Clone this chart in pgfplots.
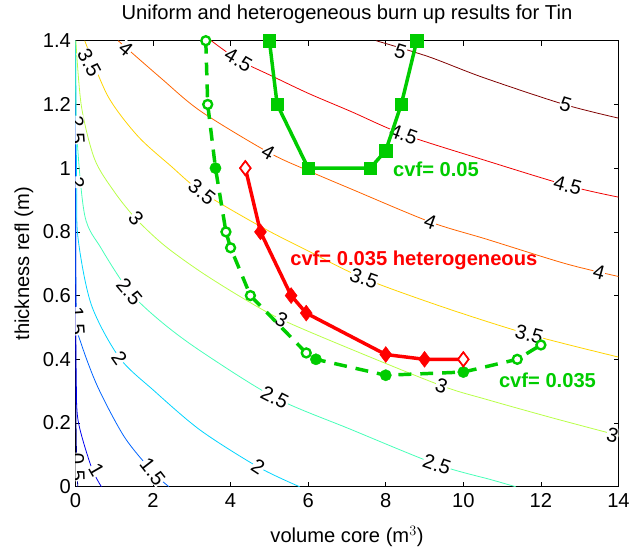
\documentclass[border=0pt]{standalone}
\usepackage{fontspec}
\setmainfont{Liberation Sans}
\usepackage{pgfplots}
\pgfplotsset{compat=1.18}
\definecolor{cA}{rgb}{0,0,0.56}
\definecolor{cB}{rgb}{0,0,0.94}
\definecolor{cC}{rgb}{0,0.39,1}
\definecolor{cD}{rgb}{0,0.83,1}
\definecolor{cE}{rgb}{0.28,1,0.72}
\definecolor{cF}{rgb}{0.72,1,0.28}
\definecolor{cG}{rgb}{1,0.83,0}
\definecolor{cH}{rgb}{1,0.39,0}
\definecolor{cI}{rgb}{0.94,0,0}
\definecolor{cJ}{rgb}{0.5,0,0}
\definecolor{mygreen}{rgb}{0,0.8,0}
\newcommand{\fs}{\fontsize{20.3}{23}\selectfont}
\tikzset{clabel/.style={fill=white, inner sep=0.3pt, font=\fs, text=black},
  cline/.style={line width=0.8pt, smooth, tension=0.5}}
\begin{document}
\begin{tikzpicture}
\begin{axis}[at={(0pt,0pt)},anchor=south west,
  scale only axis, width=547pt, height=449.3pt,
  xmin=0,xmax=14,ymin=0,ymax=1.4,
  xtick={0,2,4,6,8,10,12,14},
  ytick={0,0.2,0.4,0.6,0.8,1,1.2,1.4},
  yticklabels={0,0.2,0.4,0.6,0.8,1,1.2,1.4},
  tick align=inside, major tick length=5pt,
  tick style={black, line width=0.6pt},
  axis line style={black, line width=0.8pt},
  /pgf/number format/assume math mode=true,
  tick label style={font=\fs},
  xticklabel style={yshift=-3pt},
  yticklabel style={xshift=-1pt},
  title={Uniform and heterogeneous burn up results for Tin},
  title style={at={(axis description cs:0.5,1.045)},anchor=center,font=\fs},
  xlabel={volume core (m$^{3}$)},
  xlabel style={at={(axis description cs:0.5,-0.112)},anchor=center,font=\fs},
  ylabel={thickness refl (m)},
  ylabel style={at={(axis description cs:-0.095,0.5)},anchor=center,font=\fs},
]
% contour lines
\addplot[cline, cA] coordinates {(0.001,1.4) (0.005,0.5) (0.02,0.15) (0.06,0)};
\addplot[cline, cB] coordinates {(0.002,1.4) (0.006,0.6) (0.02,0.35) (0.068,0.208) (0.41,0.062) (0.67,0)};
\addplot[cline, cC] coordinates {(0.002,1.4) (0.006,0.8) (0.03,0.52) (0.154,0.447) (0.58,0.312) (1.263,0.156) (1.99,0.047) (2.41,0)};
\addplot[cline, cD] coordinates {(0.003,1.4) (0.03,0.956) (0.068,0.779) (0.41,0.571) (1.135,0.405) (2.03,0.301) (3.225,0.177) (4.71,0.062) (5.78,0)};
\addplot[cline, cE] coordinates {(0.005,1.4) (0.03,1.12) (0.239,0.852) (0.665,0.748) (1.39,0.613) (2.2,0.519) (3.225,0.426) (5.14,0.28) (7.1,0.18) (9.32,0.07) (10.72,0.022) (11.35,0)};
\addplot[cline, cF] coordinates {(0.01,1.4) (0.154,1.194) (0.495,1.028) (1.007,0.925) (1.561,0.841) (2.286,0.758) (3.225,0.675) (4.3,0.593) (5.31,0.525) (7.1,0.432) (9.44,0.317) (10.6,0.274) (12.3,0.216) (14,0.161)};
\addplot[cline, cG] coordinates {(0.24,1.4) (0.836,1.226) (1.604,1.101) (2.457,1.007) (3.26,0.925) (4.8,0.815) (6,0.74) (7.44,0.654) (9.5,0.563) (11.7,0.478) (14,0.407)};
\addplot[cline, cH] coordinates {(1.1,1.4) (2.2,1.283) (3.225,1.179) (4.97,1.05) (6,0.992) (7.1,0.935) (9.15,0.831) (10.6,0.777) (12.64,0.70) (14,0.66)};
\addplot[cline, cI] coordinates {(3.5,1.4) (4.2,1.34) (5.05,1.29) (6,1.235) (7.1,1.178) (8.46,1.106) (10.6,1.023) (12.7,0.945) (14,0.909)};
\addplot[cline, cJ] coordinates {(7.75,1.4) (9.1,1.35) (10.5,1.285) (12.6,1.2) (14,1.157)};
% contour labels
\node[clabel, rotate=-17] at (axis cs:8.38,1.366) {5};
\node[clabel, rotate=-17] at (axis cs:12.64,1.2) {5};
\node[clabel, rotate=-30] at (axis cs:4.2,1.34) {4.5};
\node[clabel, rotate=-20] at (axis cs:8.46,1.106) {4.5};
\node[clabel, rotate=-15] at (axis cs:12.69,0.945) {4.5};
\node[clabel, rotate=-40] at (axis cs:1.3,1.375) {4};
\node[clabel, rotate=-30] at (axis cs:4.97,1.05) {4};
\node[clabel, rotate=-20] at (axis cs:9.15,0.831) {4};
\node[clabel, rotate=-15] at (axis cs:13.5,0.672) {4};
\node[clabel, rotate=-62] at (axis cs:0.36,1.33) {3.5};
\node[clabel, rotate=-38] at (axis cs:3.26,0.925) {3.5};
\node[clabel, rotate=-20] at (axis cs:7.44,0.654) {3.5};
\node[clabel, rotate=-15] at (axis cs:11.7,0.478) {3.5};
\node[clabel, rotate=-50] at (axis cs:1.56,0.841) {3};
\node[clabel, rotate=-26] at (axis cs:5.31,0.525) {3};
\node[clabel, rotate=-20] at (axis cs:9.44,0.317) {3};
\node[clabel, rotate=-15] at (axis cs:13.85,0.163) {3};
\node[clabel, rotate=-86] at (axis cs:0.04,1.12) {2.5};
\node[clabel, rotate=-50] at (axis cs:1.39,0.613) {2.5};
\node[clabel, rotate=-27] at (axis cs:5.14,0.28) {2.5};
\node[clabel, rotate=-19] at (axis cs:9.32,0.07) {2.5};
\node[clabel, rotate=-86] at (axis cs:0.04,0.956) {2};
\node[clabel, rotate=-55] at (axis cs:1.135,0.405) {2};
\node[clabel, rotate=-33] at (axis cs:4.71,0.062) {2};
\node[clabel, rotate=-86] at (axis cs:0.04,0.52) {1.5};
\node[clabel, rotate=-52] at (axis cs:1.99,0.047) {1.5};
\node[clabel, rotate=-60] at (axis cs:0.54,0.053) {1};
\node[clabel, rotate=-88] at (axis cs:0.05,0.062) {0.5};
% cvf = 0.05
\addplot[mygreen, line width=3.5pt, mark=square*, mark size=6.3pt, mark options={solid, line width=0.5pt}]
  coordinates {(5,1.4) (5.2,1.2) (6,1) (7.6,1) (8,1.055) (8.4,1.2) (8.8,1.4)};
% cvf = 0.035
\addplot[mygreen, line width=3.5pt, dash pattern=on 13pt off 9pt]
  coordinates {(3.36,1.4) (3.41,1.2) (3.61,1.0) (3.88,0.8) (4.0,0.75) (4.51,0.6) (5.95,0.42) (6.2,0.4) (8,0.35) (10,0.36) (11.39,0.4) (12,0.445)};
\addplot[only marks, mygreen, mark=*, mark size=4.5pt, mark options={fill=white, line width=2.4pt}]
  coordinates {(3.36,1.4) (3.41,1.2) (3.88,0.8) (4.0,0.75) (4.51,0.6) (5.95,0.42) (11.39,0.4) (12,0.445)};
\addplot[only marks, mygreen, mark=*, mark size=5.7pt]
  coordinates {(3.61,1.0) (6.2,0.4) (8,0.35) (10,0.36)};
% cvf = 0.035 heterogeneous
\addplot[red, line width=3.5pt, mark=diamond*, mark size=8pt, mark options={solid, line width=0.5pt}]
  coordinates {(4.38,1.0) (4.77,0.8) (5.56,0.6) (5.95,0.545) (8,0.415) (9,0.4) (10,0.4)};
\addplot[only marks, red, mark=diamond*, mark size=7pt, mark options={fill=white, line width=1.6pt}]
  coordinates {(4.38,1.0) (10,0.4)};
\node[anchor=west, text=mygreen, font=\fs\bfseries] at (axis cs:8.1,0.995) {cvf= 0.05};
\node[anchor=west, text=red, font=\fs\bfseries] at (axis cs:5.45,0.71) {cvf= 0.035 heterogeneous};
\node[anchor=west, text=mygreen, font=\fs\bfseries] at (axis cs:10.83,0.333) {cvf= 0.035};
\end{axis}
\path (-76pt,-61pt) rectangle (557pt,490.3pt);
\end{tikzpicture}
\end{document}
